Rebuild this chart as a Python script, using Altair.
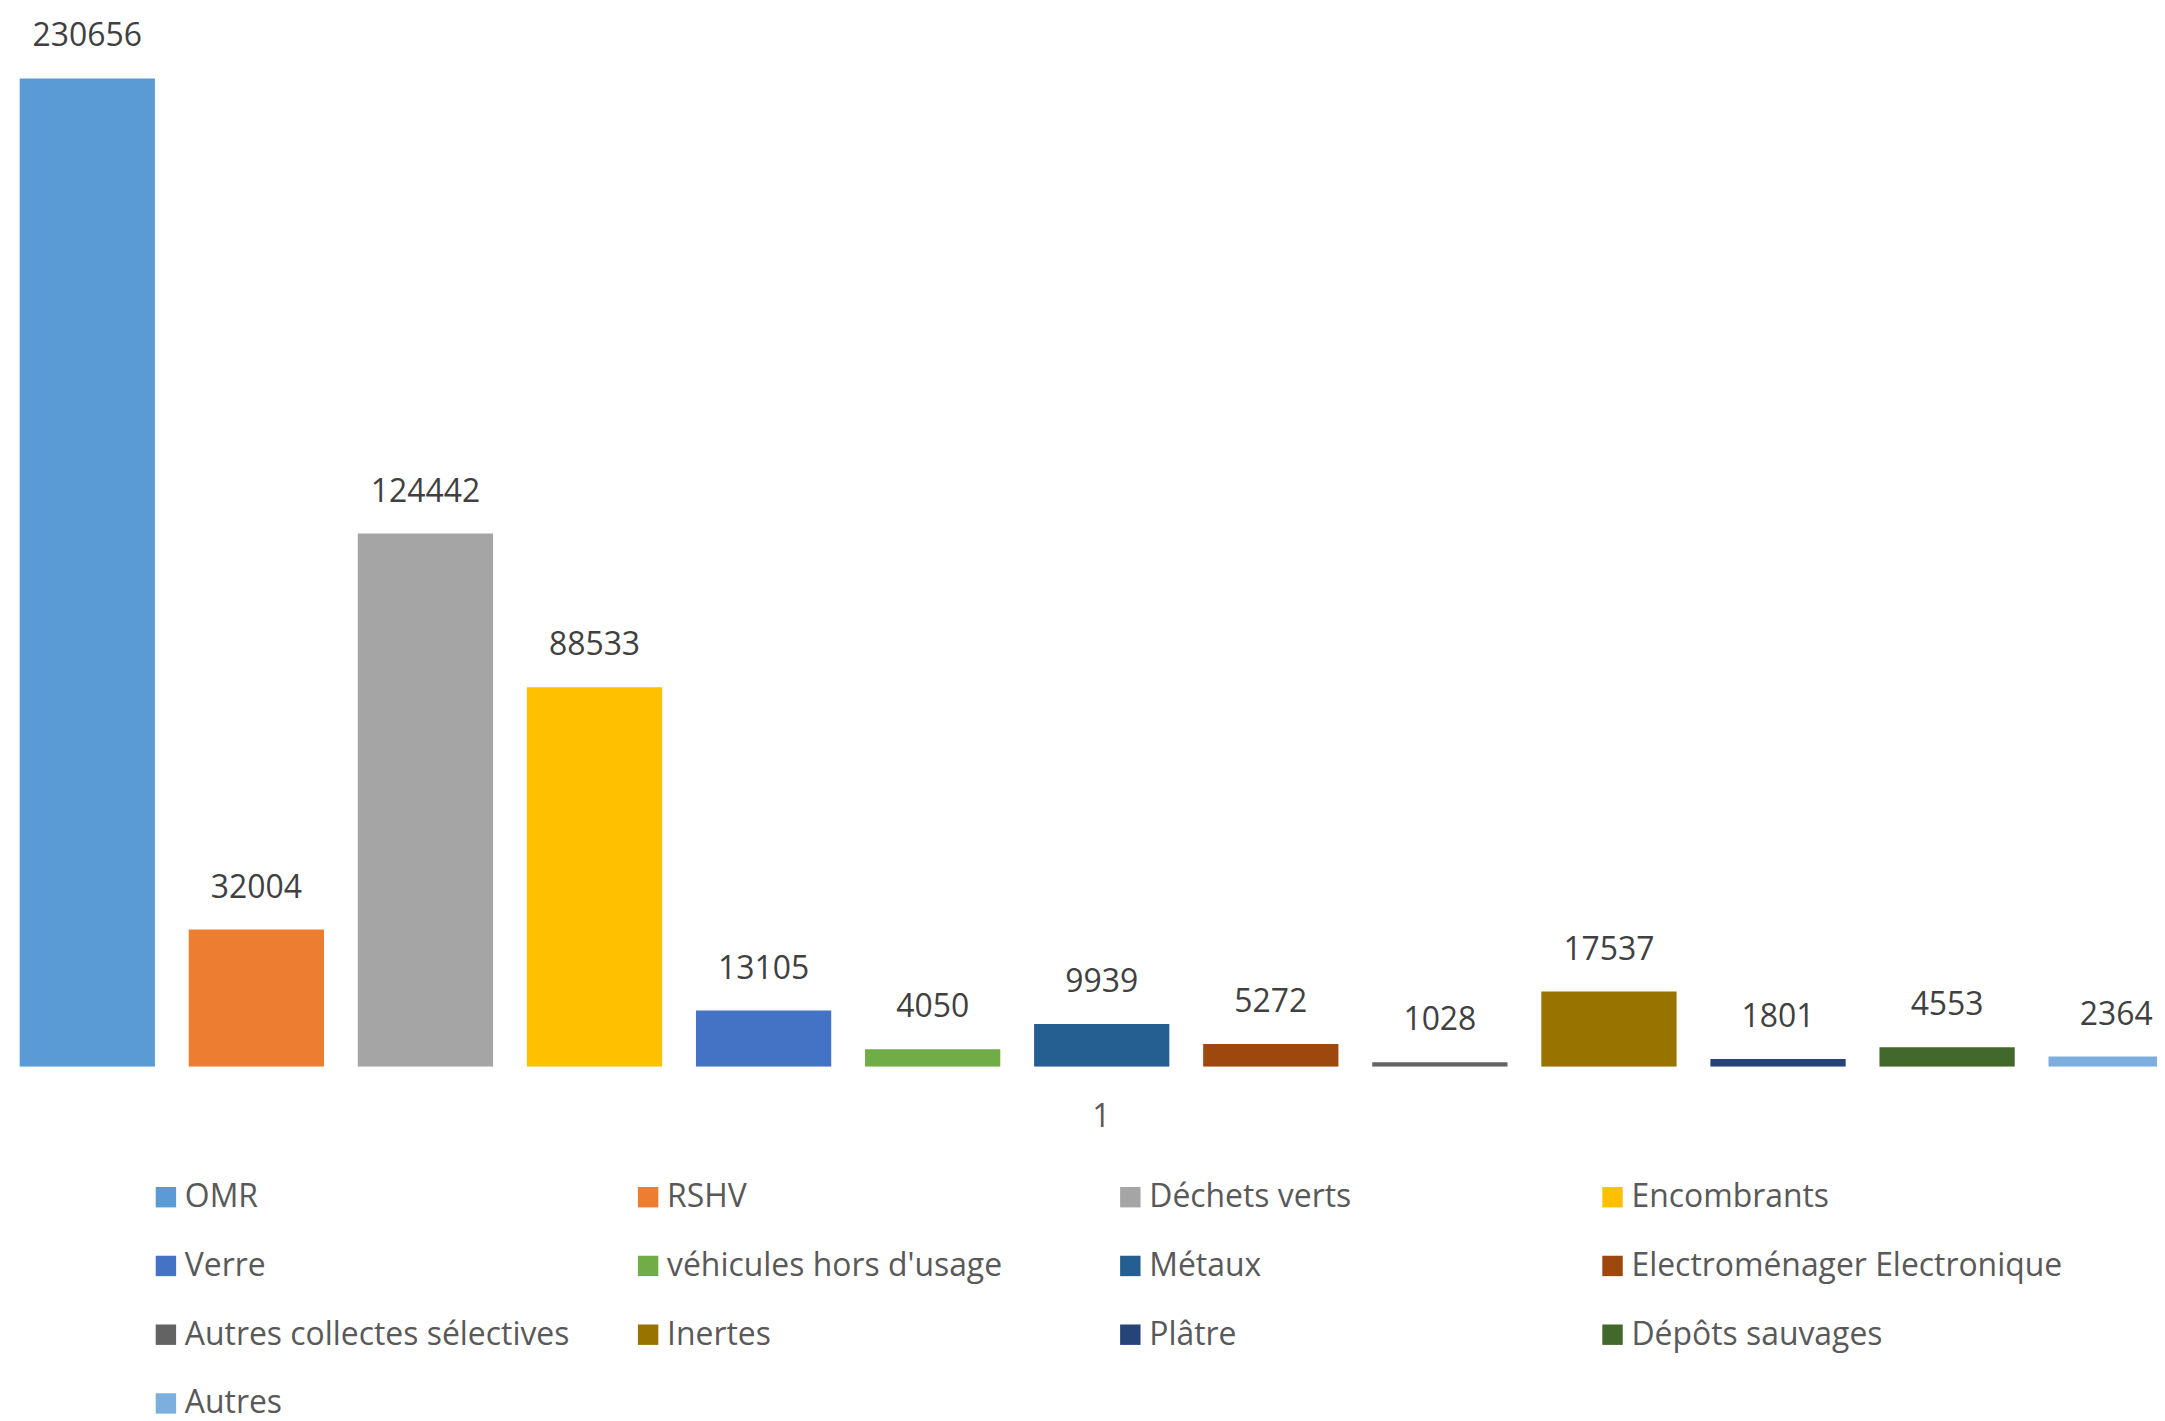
import altair as alt
import pandas as pd

categories = ["OMR", "RSHV", "Déchets verts", "Encombrants", "Verre",
              "véhicules hors d'usage", "Métaux", "Electroménager Electronique",
              "Autres collectes sélectives", "Inertes", "Plâtre",
              "Dépôts sauvages", "Autres"]
values = [230656, 32004, 124442, 88533, 13105, 4050, 9939, 5272, 1028,
          17537, 1801, 4553, 2364]
colors = ["#5B9BD5", "#ED7D31", "#A5A5A5", "#FFC000", "#4472C4", "#70AD47",
          "#255E91", "#9E480E", "#636363", "#997300", "#264478", "#43682B",
          "#7CAFDD"]
group_label = "1"

df = pd.DataFrame({"category": categories, "value": values})

FONT = "Open Sans"
FS = 32
H = 1060

x_enc = alt.X(
    "category:N", sort=categories,
    scale=alt.Scale(range=[0, 2195.6], paddingInner=0.2, paddingOuter=0.069),
    axis=alt.Axis(labels=False, ticks=False, domain=False, grid=False,
                  title=group_label, titleFont=FONT, titleFontSize=FS,
                  titleFontWeight="normal", titleColor="#595959",
                  titleX=1097, titleY=50, titleBaseline="middle",
                  titleAlign="center"),
)
y_enc = alt.Y("value:Q", scale=alt.Scale(domain=[0, 246470], nice=False),
              axis=None)

bars = alt.Chart(df).mark_bar(clip=True).encode(
    x=x_enc, y=y_enc,
    color=alt.Color(
        "category:N", sort=categories,
        scale=alt.Scale(domain=categories, range=colors),
        legend=alt.Legend(
            title=None, orient="none", legendX=142.5, legendY=1175,
            columns=4, direction="horizontal", gridAlign="all",
            columnPadding=16, rowPadding=37,
            symbolType="square", symbolSize=420, symbolStrokeWidth=0,
            symbolOpacity=1, labelFont=FONT, labelFontSize=FS,
            labelColor="#595959", labelOffset=3, labelLimit=0,
        ),
    ),
)

labels = alt.Chart(df).mark_text(
    dy=-42, baseline="middle", align="center", font=FONT, fontSize=FS,
    color="#404040", clip=True,
).encode(x=alt.X("category:N", sort=categories), y="value:Q",
         text=alt.Text("value:Q", format="d"))

chart = alt.layer(bars, labels).properties(
    width=2157, height=H, background="white",
    padding={"left": 0, "top": 0, "right": 0, "bottom": 353},
    autosize=alt.AutoSizeParams(type="none"),
).configure_view(strokeWidth=0, stroke="transparent")

chart.save("out.html", embed_options={"renderer": "svg", "actions": False})
